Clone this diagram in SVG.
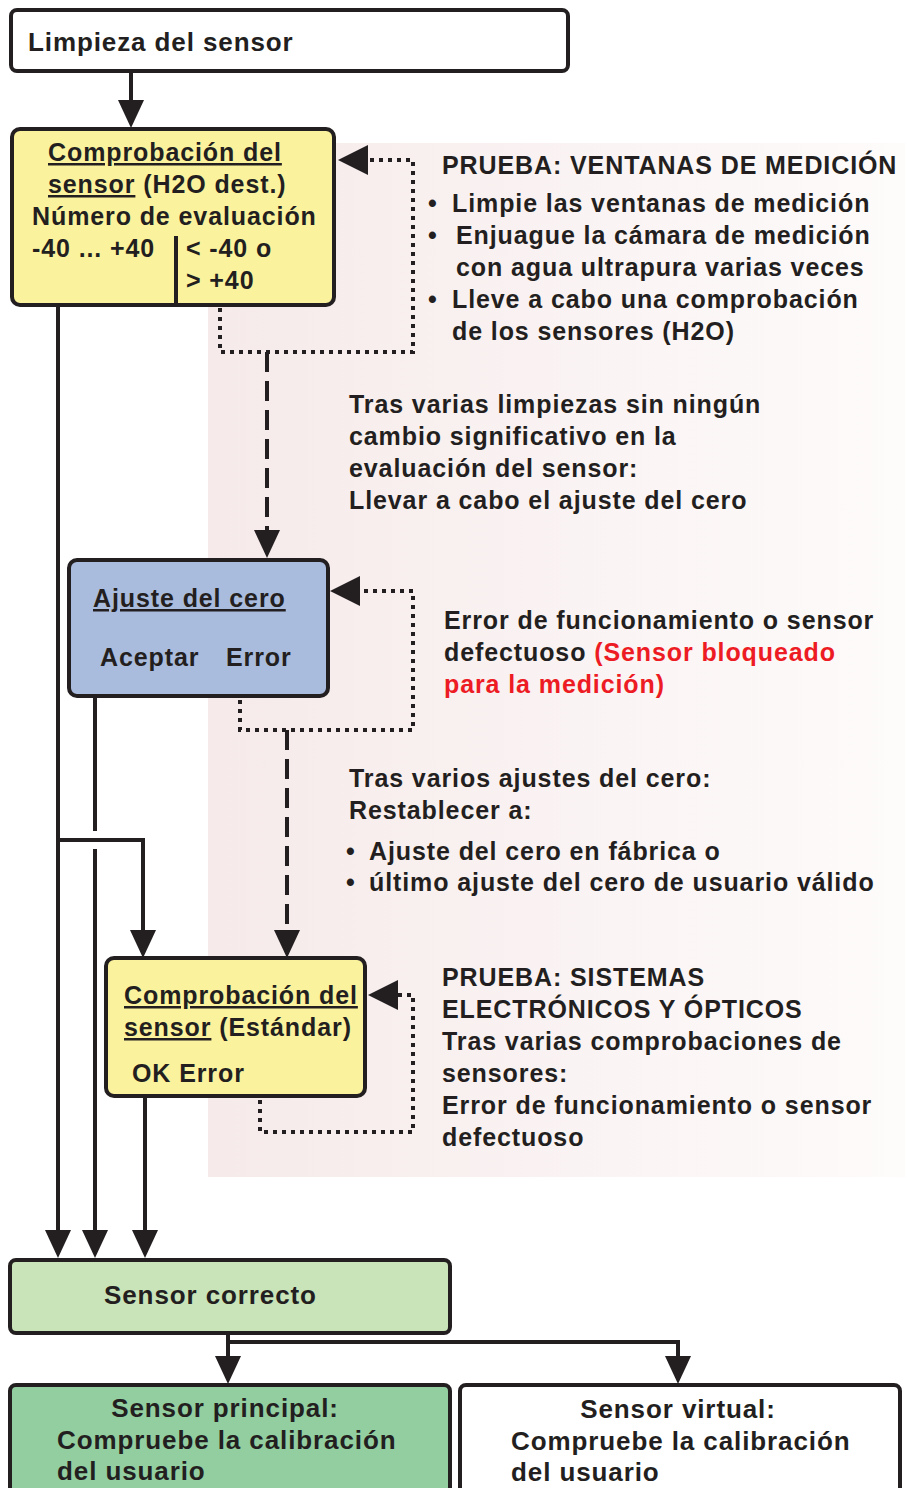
<svg xmlns="http://www.w3.org/2000/svg" width="905" height="1488" viewBox="0 0 905 1488">
<defs>
<linearGradient id="bg" x1="0" y1="0" x2="1" y2="0">
<stop offset="0" stop-color="#f6eaea"/>
<stop offset="1" stop-color="#fefbfb"/>
</linearGradient>
<style>
text{font-family:"Liberation Sans",Arial,sans-serif;font-weight:bold;font-size:25px;letter-spacing:0.9px;fill:#231f20}
text.lg{font-size:26px}
.box{stroke:#231f20;stroke-width:4}
.ln{stroke:#231f20;stroke-width:4;fill:none}
.dot{stroke:#231f20;stroke-width:4;fill:none;stroke-dasharray:4 5}
.dash{stroke:#231f20;stroke-width:4;fill:none;stroke-dasharray:20 9}
.ah{fill:#231f20}
.u{text-decoration:underline}
.red{fill:#ed1c24}
</style>
</defs>
<rect x="208" y="143" width="697" height="1034" fill="url(#bg)"/>

<g id="connectors">
<line class="ln" x1="131" y1="71" x2="131" y2="102"/>
<polygon class="ah" points="118,100 144,100 131,128"/>
<path class="dot" d="M220 308 V352 H413 V160 H366"/>
<polygon class="ah" points="338,160 368,145 368,175"/>
<line class="dash" x1="267" y1="352" x2="267" y2="532"/>
<polygon class="ah" points="254,530 280,530 267,558"/>
<path class="dot" d="M240 700 V730 H413 V591 H358"/>
<polygon class="ah" points="330,591 360,576 360,606"/>
<line class="dash" x1="287" y1="730" x2="287" y2="932"/>
<polygon class="ah" points="274,930 300,930 287,958"/>
<path class="dot" d="M260 1100 V1132 H413 V995 H398"/>
<polygon class="ah" points="368,995 398,980 398,1010"/>
<line class="ln" x1="58" y1="305" x2="58" y2="1232"/>
<polygon class="ah" points="45,1230 71,1230 58,1258"/>
<line class="ln" x1="95" y1="696" x2="95" y2="831"/>
<line class="ln" x1="95" y1="849" x2="95" y2="1232"/>
<polygon class="ah" points="82,1230 108,1230 95,1258"/>
<path class="ln" d="M58 840 H143 V932"/>
<polygon class="ah" points="130,930 156,930 143,958"/>
<line class="ln" x1="145" y1="1096" x2="145" y2="1232"/>
<polygon class="ah" points="132,1230 158,1230 145,1258"/>
<path class="ln" d="M228 1333 V1358 M228 1342 H678 V1358"/>
<polygon class="ah" points="215,1356 241,1356 228,1384"/>
<polygon class="ah" points="665,1356 691,1356 678,1384"/>
</g>

<g id="limpieza">
<rect class="box" x="11" y="10" width="557" height="61" rx="6" fill="#ffffff"/>
<text class="lg" x="28" y="51">Limpieza del sensor</text>
</g>

<g id="comprobacion-h2o">
<rect class="box" x="12" y="129" width="322" height="176" rx="8" fill="#fbf29d"/>
<line class="ln" x1="176" y1="236" x2="176" y2="305"/>
<text x="48" y="161" class="u">Comprobación del</text>
<text x="48" y="193"><tspan class="u">sensor</tspan> (H2O dest.)</text>
<text x="32" y="225">Número de evaluación</text>
<text x="32" y="257">-40 ... +40</text>
<text x="186" y="257">&lt; -40 o</text>
<text x="186" y="289">&gt; +40</text>
</g>

<g id="prueba-ventanas">
<text x="442" y="174">PRUEBA: VENTANAS DE MEDICIÓN</text>
<text x="428" y="212">•</text><text x="452" y="212">Limpie las ventanas de medición</text>
<text x="428" y="244">•</text><text x="456" y="244">Enjuague la cámara de medición</text>
<text x="456" y="276">con agua ultrapura varias veces</text>
<text x="428" y="308">•</text><text x="452" y="308">Lleve a cabo una comprobación</text>
<text x="452" y="340">de los sensores (H2O)</text>
</g>

<g id="nota-limpiezas">
<text x="349" y="413">Tras varias limpiezas sin ningún</text>
<text x="349" y="445">cambio significativo en la</text>
<text x="349" y="477">evaluación del sensor:</text>
<text x="349" y="509">Llevar a cabo el ajuste del cero</text>
</g>

<g id="ajuste-cero">
<rect class="box" x="69" y="560" width="259" height="136" rx="8" fill="#aabcdd"/>
<text x="93" y="607" class="u">Ajuste del cero</text>
<text x="100" y="666">Aceptar</text>
<text x="226" y="666">Error</text>
</g>

<g id="nota-error">
<text x="444" y="629">Error de funcionamiento o sensor</text>
<text x="444" y="661">defectuoso <tspan class="red">(Sensor bloqueado</tspan></text>
<text x="444" y="693" class="red">para la medición)</text>
</g>

<g id="nota-ajustes">
<text x="349" y="787">Tras varios ajustes del cero:</text>
<text x="349" y="819">Restablecer a:</text>
<text x="346" y="860">•</text><text x="369" y="860">Ajuste del cero en fábrica o</text>
<text x="346" y="891">•</text><text x="369" y="891">último ajuste del cero de usuario válido</text>
</g>

<g id="comprobacion-estandar">
<rect class="box" x="106" y="958" width="259" height="138" rx="8" fill="#fbf29d"/>
<text x="124" y="1004" class="u">Comprobación del</text>
<text x="124" y="1036"><tspan class="u">sensor</tspan> (Estándar)</text>
<text x="132" y="1082">OK Error</text>
</g>

<g id="prueba-sistemas">
<text x="442" y="986">PRUEBA: SISTEMAS</text>
<text x="442" y="1018">ELECTRÓNICOS Y ÓPTICOS</text>
<text x="442" y="1050">Tras varias comprobaciones de</text>
<text x="442" y="1082">sensores:</text>
<text x="442" y="1114">Error de funcionamiento o sensor</text>
<text x="442" y="1146">defectuoso</text>
</g>

<g id="sensor-correcto">
<rect class="box" x="10" y="1260" width="440" height="73" rx="6" fill="#c9e4b8"/>
<text class="lg" x="104" y="1304">Sensor correcto</text>
</g>

<g id="sensor-principal">
<rect class="box" x="10" y="1385" width="440" height="120" rx="6" fill="#92cea0"/>
<text class="lg" x="225" y="1417" text-anchor="middle">Sensor principal:</text>
<text class="lg" x="57" y="1449">Compruebe la calibración</text>
<text class="lg" x="57" y="1480">del usuario</text>
</g>

<g id="sensor-virtual">
<rect class="box" x="460" y="1385" width="440" height="120" rx="6" fill="#ffffff"/>
<text class="lg" x="678" y="1418" text-anchor="middle">Sensor virtual:</text>
<text class="lg" x="511" y="1450">Compruebe la calibración</text>
<text class="lg" x="511" y="1481">del usuario</text>
</g>
</svg>
